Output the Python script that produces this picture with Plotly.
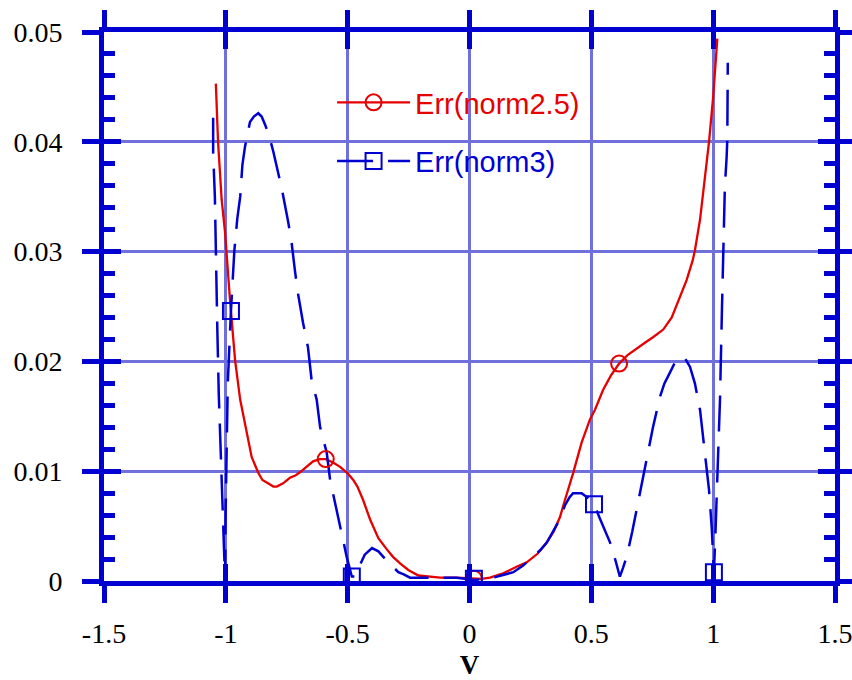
import plotly.graph_objects as go

# Err(norm2.5) curve
norm25_v = [-1.041, -1.032, -1.017, -1.003, -0.983, -0.962, -0.941, -0.914, -0.894, -0.868,
            -0.850, -0.827, -0.805, -0.791, -0.765, -0.737, -0.715, -0.696, -0.668, -0.642,
            -0.615, -0.590, -0.560, -0.531, -0.500, -0.477, -0.460, -0.437, -0.408, -0.374,
            -0.340, -0.314, -0.285, -0.251, -0.210, -0.176, -0.120, -0.053, 0.018, 0.050,
            0.084, 0.138, 0.193, 0.235, 0.280, 0.317, 0.345, 0.371, 0.392, 0.425,
            0.460, 0.494, 0.515, 0.548, 0.580, 0.614, 0.650, 0.686, 0.720, 0.753,
            0.795, 0.830, 0.864, 0.891, 0.916, 0.925, 0.946, 0.966, 0.983, 1.000, 1.017]
norm25_err = [0.0453, 0.0400, 0.0347, 0.0317, 0.0256, 0.0201, 0.0165, 0.0135, 0.0113, 0.0099,
              0.0092, 0.0089, 0.0086, 0.0086, 0.0089, 0.0094, 0.0096, 0.0099, 0.0104, 0.0109,
              0.0111, 0.0111, 0.0108, 0.0104, 0.0098, 0.0092, 0.0086, 0.0074, 0.0056, 0.0039,
              0.0029, 0.0022, 0.0016, 0.0010, 0.0005, 0.0004, 0.0003, 0.0003, 0.0002, 0.0002,
              0.0003, 0.0007, 0.0013, 0.0017, 0.0025, 0.0035, 0.0045, 0.0058, 0.0074, 0.0098,
              0.0126, 0.0147, 0.0156, 0.0174, 0.0187, 0.0198, 0.0206, 0.0212, 0.0217, 0.0222,
              0.0229, 0.0240, 0.0259, 0.0274, 0.0292, 0.0301, 0.0329, 0.0365, 0.0400, 0.0441, 0.0494]

# Err(norm3) curve
norm3_v = [-1.052, -1.052, -1.045, -1.041, -1.035, -1.029, -1.022, -1.015, -1.008, -1.003,
           -1.001, -0.998, -0.992, -0.979, -0.965, -0.953, -0.941, -0.932, -0.921, -0.901,
           -0.885, -0.867, -0.853, -0.838, -0.823, -0.805, -0.789, -0.771, -0.744, -0.730,
           -0.716, -0.704, -0.683, -0.663, -0.648, -0.627, -0.613, -0.600, -0.586, -0.572,
           -0.552, -0.524, -0.504, -0.483, -0.470, -0.455, -0.430, -0.400, -0.374, -0.350,
           -0.326, -0.292, -0.270, -0.244, -0.180, -0.120, -0.053, 0.018, 0.080, 0.130,
           0.180, 0.220, 0.261, 0.290, 0.317, 0.340, 0.363, 0.392, 0.410, 0.425,
           0.460, 0.490, 0.511, 0.535, 0.555, 0.577, 0.600, 0.617, 0.630, 0.645,
           0.668, 0.691, 0.712, 0.733, 0.753, 0.782, 0.800, 0.823, 0.845, 0.860,
           0.884, 0.905, 0.925, 0.946, 0.959, 0.973, 0.983, 0.994, 1.003, 1.008,
           1.014, 1.021, 1.028, 1.036, 1.042, 1.048, 1.055, 1.058, 1.060]
norm3_err = [0.0422, 0.0390, 0.0350, 0.0292, 0.0230, 0.0170, 0.0120, 0.0070, 0.0030, 0.0000,
             0.0060, 0.0120, 0.0180, 0.0246, 0.0301, 0.0330, 0.0350, 0.0379, 0.0396, 0.0418,
             0.0423, 0.0426, 0.0423, 0.0415, 0.0406, 0.0391, 0.0376, 0.0358, 0.0327, 0.0308,
             0.0282, 0.0262, 0.0235, 0.0213, 0.0183, 0.0165, 0.0140, 0.0128, 0.0117, 0.0092,
             0.0071, 0.0040, 0.0022, 0.0004, 0.0004, 0.0012, 0.0024, 0.0030, 0.0027, 0.0021,
             0.0016, 0.0008, 0.0006, 0.0003, 0.0003, 0.0003, 0.0003, 0.0001, 0.0002, 0.0005,
             0.0008, 0.0014, 0.0022, 0.0028, 0.0035, 0.0044, 0.0053, 0.0069, 0.0076, 0.0080,
             0.0080, 0.0075, 0.0070, 0.0057, 0.0047, 0.0035, 0.0018, 0.0004, 0.0012, 0.0022,
             0.0045, 0.0071, 0.0095, 0.0119, 0.0140, 0.0168, 0.0180, 0.0190, 0.0200, 0.0204,
             0.0203, 0.0195, 0.0180, 0.0156, 0.0131, 0.0104, 0.0083, 0.0049, 0.0008, 0.0035,
             0.0074, 0.0120, 0.0165, 0.0247, 0.0300, 0.0359, 0.0385, 0.0402, 0.0472]

# symbol positions along each curve
norm25_mark_v = [-0.590, 0.018, 0.614]
norm25_mark_err = [0.0111, 0.0002, 0.0198]
norm3_mark_v = [-0.979, -0.483, 0.018, 0.511, 1.003]
norm3_mark_err = [0.0246, 0.0004, 0.0002, 0.0070, 0.0008]

x_ticks = [-1.5, -1.0, -0.5, 0.0, 0.5, 1.0, 1.5]
x_tick_text = ["-1.5", "-1", "-0.5", "0", "0.5", "1", "1.5"]
y_ticks = [0.0, 0.01, 0.02, 0.03, 0.04, 0.05]
y_tick_text = ["0", "0.01", "0.02", "0.03", "0.04", "0.05"]

RED = "#e60000"
BLUE = "#0000d2"
AXIS = "#0000d0"
GRID = "#7070dc"
SERIF = "Liberation Serif"
SANS = "Liberation Sans"
DASH = "36px,15px"

fig = go.Figure()

fig.add_trace(go.Scatter(x=norm25_v, y=norm25_err, mode="lines",
                         line=dict(color=RED, width=2.3), showlegend=False))
fig.add_trace(go.Scatter(x=norm3_v, y=norm3_err, mode="lines",
                         line=dict(color=BLUE, width=2.5, dash=DASH), showlegend=False))
fig.add_trace(go.Scatter(x=norm25_mark_v, y=norm25_mark_err, mode="markers",
                         marker=dict(symbol="circle-open", size=16, color=RED,
                                     line=dict(width=2, color=RED)),
                         showlegend=False, xaxis="x2", yaxis="y2"))
fig.add_trace(go.Scatter(x=norm3_mark_v, y=norm3_mark_err, mode="markers",
                         marker=dict(symbol="square-open", size=16, color=BLUE,
                                     line=dict(width=2, color=BLUE)),
                         showlegend=False, xaxis="x2", yaxis="y2"))

# legend entries
fig.add_trace(go.Scatter(x=[None], y=[None], mode="lines+markers",
                         name=f"<span style='color:{RED}'>Err(norm2.5)</span>",
                         legendgroup="a",
                         line=dict(color=RED, width=2.3),
                         marker=dict(symbol="circle-open", size=16, color=RED,
                                     line=dict(width=2, color=RED))))
fig.add_trace(go.Scatter(x=[None], y=[None], mode="lines+markers",
                         name=f"<span style='color:{BLUE}'>Err(norm3)</span>",
                         legendgroup="b",
                         line=dict(color=BLUE, width=2.5, dash=DASH),
                         marker=dict(symbol="square-open", size=16, color=BLUE,
                                     line=dict(width=2, color=BLUE))))

common_x = dict(range=[-1.5, 1.5], tickmode="array", tickvals=x_ticks,
                ticklen=17, tickwidth=5, tickcolor=AXIS, zeroline=False, automargin=False)
common_y = dict(range=[0, 0.05], tickmode="array", tickvals=y_ticks,
                ticklen=17, tickwidth=5, tickcolor=AXIS, zeroline=False, automargin=False)

fig.update_layout(
    width=852, height=680,
    margin=dict(l=104, r=17, t=32, b=99),
    paper_bgcolor="white", plot_bgcolor="white",
    font=dict(family=SERIF, size=28, color="black"),
    xaxis=dict(**common_x, ticktext=x_tick_text, ticks="outside", mirror="ticks",
               showline=True, linewidth=5, linecolor=AXIS,
               showgrid=True, gridcolor=GRID, gridwidth=3,
               tickfont=dict(family=SERIF, size=28, color="black"),
               ticklabelstandoff=6, ticklabeloverflow="allow",
               title=dict(text="<b>V</b>", font=dict(family=SERIF, size=27, color="black"),
                          standoff=12)),
    yaxis=dict(**common_y, ticktext=y_tick_text, ticks="outside", mirror="ticks",
               showline=True, linewidth=5, linecolor=AXIS,
               showgrid=True, gridcolor=GRID, gridwidth=3,
               tickfont=dict(family=SERIF, size=28, color="black"),
               ticklabelstandoff=14, ticklabeloverflow="allow"),
    xaxis2=dict(**common_x, overlaying="x", matches="x", ticks="inside", mirror="ticks",
                showline=False, showgrid=False, showticklabels=False),
    yaxis2=dict(**common_y, overlaying="y", matches="y", ticks="inside", mirror="ticks",
                showline=False, showgrid=False, showticklabels=False,
                minor=dict(ticks="inside", ticklen=11, tickwidth=5, tickcolor=AXIS,
                           dtick=0.002, showgrid=False)),
    legend=dict(x=0.312, y=0.918, xanchor="left", yanchor="top",
                bgcolor="rgba(0,0,0,0)", borderwidth=0,
                font=dict(family=SANS, size=29),
                itemwidth=73, traceorder="grouped", tracegroupgap=18),
)

fig.write_html("out.html")
